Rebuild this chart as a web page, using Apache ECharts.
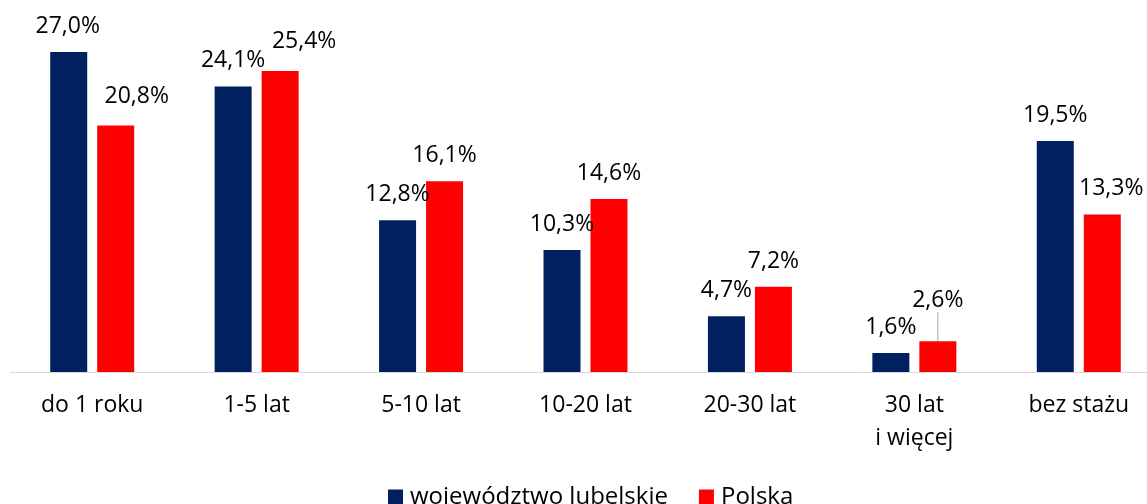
<!DOCTYPE html>
<html style="height: 100%">
<head>
    <meta charset="utf-8">
</head>
<body style="height: 100%; margin: 0">
    <div id="container" style="width: 1147px; height: 504px;"></div>
    <script type="text/javascript" src="https://cdn.jsdelivr.net/npm/echarts@6/dist/echarts.min.js"></script>
    <script type="text/javascript">
        var categories = ['do 1 roku', '1-5 lat', '5-10 lat', '10-20 lat', '20-30 lat', '30 lat\ni więcej', 'bez stażu'];
        var lubelskie = [27.0, 24.1, 12.8, 10.3, 4.7, 1.6, 19.5];
        var polska = [20.8, 25.4, 16.1, 14.6, 7.2, 2.6, 13.3];

        // przesunięcia etykiet jak w oryginale
        var shiftLub = [[-1, 0], [0, 0], [0, 0], [0, 0], [0, 0], [0, 0], [0, 0]];
        var shiftPol = [[21, -4], [24, -4], [0, 0], [0, 0], [0, 0], [0, -15], [9, 0]];

        var font = '"Open Sans", "Noto Sans", sans-serif';
        var dom = document.getElementById("container");
        var myChart = echarts.init(dom);

        function fmt(p) {
            return p.value.toFixed(1).replace('.', ',') + '%';
        }

        var polData = polska.map(function (v, i) {
            if (i === 5) {
                return { value: v, labelLine: { show: true, lineStyle: { color: '#a6a6a6', width: 1 } } };
            }
            return v;
        });

        var option = {
            animation: false,
            grid: { left: 10, width: 1151, top: 16.5, bottom: 132, outerBoundsMode: 'none' },
            legend: {
                left: 383,
                top: 480,
                itemWidth: 15,
                itemHeight: 15,
                itemGap: 31,
                icon: 'rect',
                textStyle: { fontFamily: font, fontSize: 24, color: '#000', padding: [0, 0, 0, 2] },
                data: ['województwo lubelskie', 'Polska']
            },
            xAxis: {
                type: 'category',
                data: categories,
                axisLine: { lineStyle: { color: '#d9d9d9', width: 1 } },
                axisTick: { show: false },
                axisLabel: { fontFamily: font, fontSize: 23, color: '#000', margin: 17, lineHeight: 33, interval: 0 }
            },
            yAxis: {
                type: 'value',
                min: 0,
                max: 30,
                show: false,
                splitLine: { show: false }
            },
            series: [
                {
                    name: 'województwo lubelskie',
                    type: 'bar',
                    barWidth: 37,
                    barGap: '27%',
                    data: lubelskie,
                    itemStyle: { color: '#002060' },
                    label: { show: true, position: 'top', distance: 14, formatter: fmt, fontFamily: font, fontSize: 23, color: '#000' },
                    labelLayout: function (p) {
                        return { dx: shiftLub[p.dataIndex][0], dy: shiftLub[p.dataIndex][1] };
                    }
                },
                {
                    name: 'Polska',
                    type: 'bar',
                    barWidth: 37,
                    data: polData,
                    itemStyle: { color: '#ff0000' },
                    label: { show: true, position: 'top', distance: 14, formatter: fmt, fontFamily: font, fontSize: 23, color: '#000' },
                    labelLayout: function (p) {
                        return { dx: shiftPol[p.dataIndex][0], dy: shiftPol[p.dataIndex][1] };
                    }
                }
            ]
        };
        myChart.setOption(option, true);
    </script>
</body>
</html>
